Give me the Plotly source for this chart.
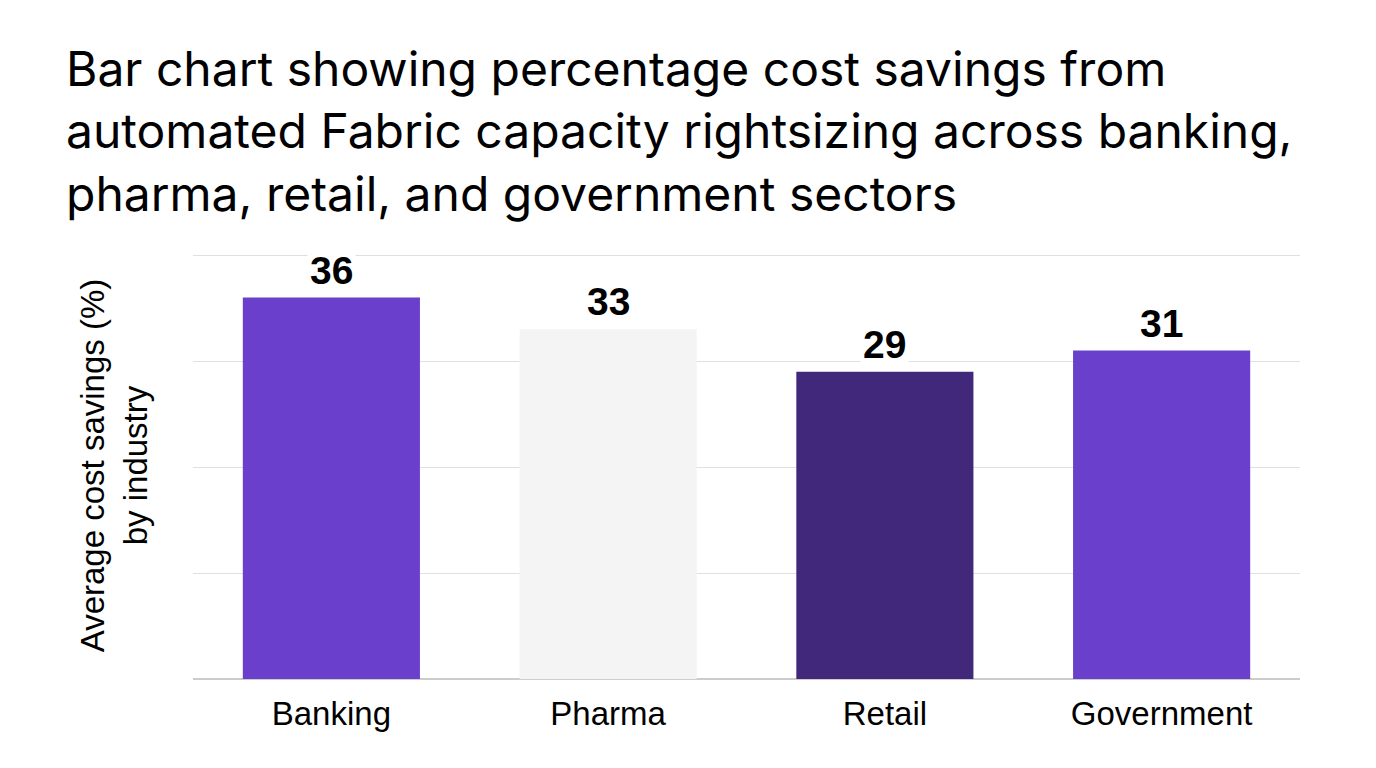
import plotly.graph_objects as go

categories = ["Banking", "Pharma", "Retail", "Government"]
savings = [36, 33, 29, 31]
colors = ["#6A3FCB", "#F4F4F4", "#42287A", "#6A3FCB"]

fig = go.Figure()
fig.add_trace(go.Bar(x=categories, y=savings, marker=dict(color=colors, line=dict(width=0)),
                     hoverinfo="x+y"))

for c, v in zip(categories, savings):
    fig.add_annotation(x=c, y=v, text=f"<b>{v}</b>", showarrow=False, yanchor="bottom",
                       yshift=3, font=dict(family="Liberation Sans, Arial", size=39, color="#000"),
                       bgcolor="white", borderpad=2)

fig.update_layout(
    width=1376, height=768,
    paper_bgcolor="white", plot_bgcolor="white",
    margin=dict(l=193, r=76, t=252, b=89),
    bargap=0.36,
    showlegend=False,
    title=dict(text="Bar chart showing percentage cost savings from<br>automated Fabric capacity rightsizing across banking,<br>pharma, retail, and government sectors",
               x=66/1376, xanchor="left", xref="container", y=1-86/768, yanchor="top", yref="container",
               font=dict(family="Inter, Liberation Sans", size=48, color="#000")),
    font=dict(family="Liberation Sans, Arial", color="#000"),
)
fig.update_yaxes(range=[0, 40.3], dtick=10, showticklabels=False, showgrid=True, gridcolor="#E0E0E0",
                 gridwidth=1, zeroline=True, zerolinecolor="#CCCCCC", zerolinewidth=1.5,
                 title=dict(text="Average cost savings (%)<br>by industry", font=dict(size=33, color="#000"), standoff=34))
fig.update_xaxes(tickfont=dict(size=33, color="#000"), ticks="", showline=False, ticklabelstandoff=12)

fig.write_html("out.html")
